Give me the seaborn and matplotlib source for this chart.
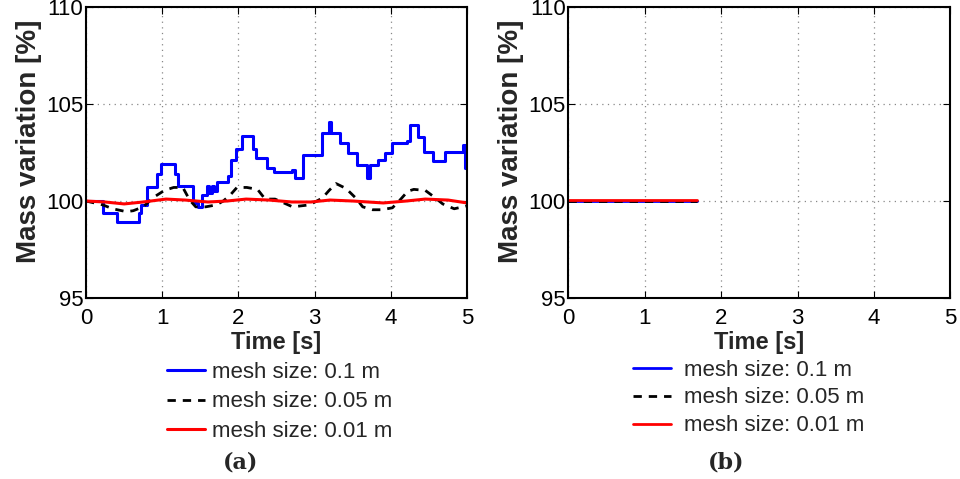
import matplotlib
matplotlib.use("Agg")
import matplotlib.pyplot as plt
import seaborn as sns

# (a) mass variation over time for three mesh sizes
blue_t = [0, 0.22, 0.40, 0.69, 0.72, 0.80, 0.93, 0.99, 1.17, 1.21, 1.41, 1.47, 1.52, 1.59,
          1.62, 1.65, 1.68, 1.72, 1.86, 1.90, 1.97, 2.04, 2.19, 2.23, 2.37, 2.46, 2.70, 2.74,
          2.85, 3.10, 3.19, 3.22, 3.33, 3.44, 3.55, 3.68, 3.72, 3.83, 3.92, 4.02, 4.21, 4.25,
          4.36, 4.43, 4.55, 4.71, 4.95, 4.97, 5.0]
blue_v = [100.0, 99.4, 98.9, 99.4, 99.8, 100.7, 101.4, 101.9, 101.4, 100.8, 99.9, 99.7, 100.3, 100.8,
          100.4, 100.8, 100.5, 101.0, 101.3, 102.1, 102.7, 103.35, 102.7, 102.2, 101.7, 101.5, 101.6, 101.2,
          102.35, 103.5, 104.1, 103.5, 103.0, 102.5, 101.85, 101.2, 101.85, 102.1, 102.5, 103.0, 103.1, 103.9,
          103.3, 102.55, 102.05, 102.55, 102.9, 101.7, 101.7]

black_t = [0, 0.22, 0.35, 0.53, 0.62, 0.75, 0.89, 1.03, 1.15, 1.27, 1.36, 1.44, 1.57, 1.71, 1.80,
           1.89, 1.98, 2.11, 2.25, 2.35, 2.48, 2.71, 2.93, 3.10, 3.19, 3.28, 3.41, 3.54, 3.63, 3.76,
           3.88, 4.02, 4.13, 4.22, 4.30, 4.45, 4.57, 4.68, 4.83, 5.0]
black_v = [100.0, 99.8, 99.6, 99.45, 99.5, 99.7, 100.2, 100.55, 100.7, 100.7, 100.05, 99.7, 99.7, 99.8, 100.0,
           100.3, 100.7, 100.7, 100.6, 100.1, 100.1, 99.7, 99.8, 100.15, 100.55, 100.9, 100.65, 100.15, 99.7, 99.55,
           99.55, 99.65, 100.1, 100.5, 100.6, 100.55, 100.2, 99.85, 99.6, 99.75]

red_t = [0, 0.25, 0.5, 0.75, 1.05, 1.3, 1.6, 1.85, 2.1, 2.4, 2.7, 2.95, 3.2, 3.5, 3.9, 4.2, 4.45, 4.75, 5.0]
red_v = [100.0, 99.95, 99.85, 99.95, 100.1, 100.05, 99.95, 100.0, 100.1, 100.05, 99.95, 99.95, 100.05,
         100.0, 99.9, 100.0, 100.1, 100.05, 99.9]

# (b) simulation stopped early, all series flat
b_t = [0, 1.68]
b_v = [100.0, 100.0]
b_v_red = [100.06, 100.06]

labels = ["mesh size: 0.1 m", "mesh size: 0.05 m", "mesh size: 0.01 m"]

sns.set_theme(style="white")
plt.rcParams['font.family'] = ['Liberation Sans', 'DejaVu Sans']

fig = plt.figure(figsize=(9.6, 4.79), dpi=100)
ax1 = fig.add_axes([0.0896, 0.378, 0.397, 0.607])
ax2 = fig.add_axes([0.592, 0.378, 0.398, 0.607])

sns.lineplot(x=blue_t, y=blue_v, ax=ax1, color="#0000ff", lw=2.2, drawstyle="steps-post", label=labels[0])
sns.lineplot(x=black_t, y=black_v, ax=ax1, color="black", lw=2.0, linestyle=(0, (3, 2.5)), label=labels[1])
sns.lineplot(x=red_t, y=red_v, ax=ax1, color="#ff0000", lw=2.2, label=labels[2])

sns.lineplot(x=b_t, y=b_v, ax=ax2, color="#0000ff", lw=2.0, label=labels[0])
sns.lineplot(x=b_t, y=b_v, ax=ax2, color="black", lw=2.0, linestyle=(0, (3, 2.5)), label=labels[1])
sns.lineplot(x=b_t, y=b_v_red, ax=ax2, color="#ff0000", lw=2.0, label=labels[2])

legend_opts = [(ax1, (0.213, -0.221), 0.3, 0.37), (ax2, (0.170, -0.212), 0.6, 0.31)]
for ax, anchor, textpad, spacing in legend_opts:
    ax.set_xlim(0, 5)
    ax.set_ylim(95, 110)
    ax.set_xticks([0, 1, 2, 3, 4, 5])
    ax.set_yticks([95, 100, 105, 110])
    ax.tick_params(direction="in", length=5, width=0.8, labelsize=16, top=True, right=True,
                   bottom=True, left=True, colors="black")
    ax.tick_params(axis="x", pad=7)
    ax.tick_params(axis="y", pad=2)
    ax.grid(True, linestyle=(0, (1, 3.5)), color="#888888", lw=0.9)
    for s in ax.spines.values():
        s.set_color("black")
        s.set_linewidth(1.5)
    ax.set_ylabel("Mass variation [%]", fontsize=20, fontweight="bold", labelpad=3, y=0.54)
    ax.set_xlabel("Time [s]", fontsize=17, fontweight="bold", labelpad=2)
    ax.legend(loc="upper left", bbox_to_anchor=anchor, frameon=False, fontsize=16,
              handlelength=1.7, handletextpad=textpad, labelspacing=spacing, borderpad=0,
              borderaxespad=0)

fig.text(0.251, 0.022, "(a)", fontsize=16, fontweight="bold", family="DejaVu Serif", ha="center")
fig.text(0.756, 0.022, "(b)", fontsize=16, fontweight="bold", family="DejaVu Serif", ha="center")

fig.savefig("out.png", dpi=100)
